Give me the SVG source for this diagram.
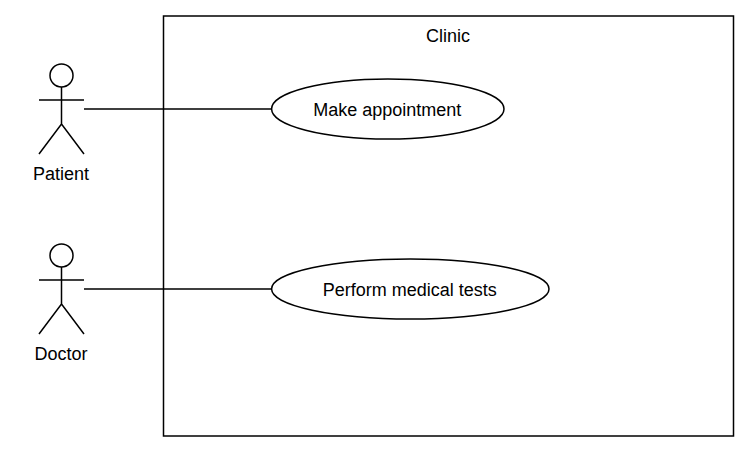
<svg xmlns="http://www.w3.org/2000/svg" width="755" height="454" viewBox="0 0 755 454">
<style>
.s{fill:#fff;stroke:#000;stroke-width:1.5}
.l{fill:none;stroke:#000;stroke-width:1.5}
text{font-family:"Liberation Sans",Arial,sans-serif;font-size:18px;fill:#000;text-anchor:middle}
</style>
<rect width="755" height="454" fill="#fff"/>
<g id="clinic"><rect class="s" x="163.500" y="16" width="570" height="420"/><text x="448" y="42">Clinic</text></g>
<g id="patient"><circle class="s" cx="61.500" cy="75.500" r="11.500"/><path class="l" d="M61.500 87V124M39 100H84M39 154L61.500 124L84 154"/><text x="61" y="180">Patient</text></g>
<g id="doctor"><circle class="s" cx="61.500" cy="255.500" r="11.500"/><path class="l" d="M61.500 267V304M39 280H84M39 334L61.500 304L84 334"/><text x="61" y="360">Doctor</text></g>
<g id="connectors"><path class="l" d="M84 109H272M84 289H272"/></g>
<g id="make"><ellipse class="s" cx="387.800" cy="109" rx="116.200" ry="30"/><text x="387.200" y="116">Make appointment</text></g>
<g id="perform"><ellipse class="s" cx="410.300" cy="289" rx="138.700" ry="30"/><text x="409.700" y="296">Perform medical tests</text></g>
</svg>
